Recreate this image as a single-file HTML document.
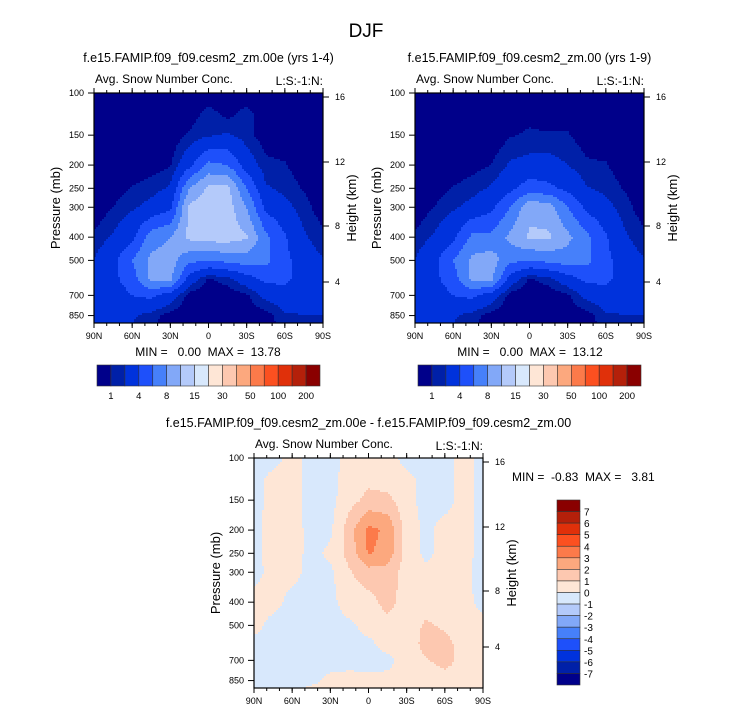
<!DOCTYPE html>
<html><head><meta charset="utf-8">
<style>
body{margin:0;background:#fff;font-family:"Liberation Sans",Arial,sans-serif}
svg text{font-family:"Liberation Sans",Arial,sans-serif;fill:#000;white-space:pre}
</style></head>
<body>
<svg id="fig" width="733" height="712" viewBox="0 0 733 712" xmlns="http://www.w3.org/2000/svg">
<rect width="733" height="712" fill="#fff"/>
<text x="366" y="37" font-size="19" text-anchor="middle">DJF</text>
<g id="g"></g>
</svg>
<script>
// ---- data ----
const lats = ["90N","75N","60N","45N","30N","15N","0","15S","30S","45S","60S","75S","90S"];
const latTicks = ["90N","60N","30N","0","30S","60S","90S"];
const pres = [100,125,150,200,250,300,400,500,600,700,850,925];
const presTicks = [100,150,200,250,300,400,500,700,850];
const hgtTicks = [16,12,8,4];
const levelsTop = [1,2,4,6,8,10,15,20,30,40,50,70,100,150,200];
const levelsTopLabels = ["1","4","8","15","30","50","100","200"];
const levelsDiff = [-7,-6,-5,-4,-3,-2,-1,0,1,2,3,4,5,6,7];
const colors = ["#00008a","#0020a8","#0032dc","#1e50fa","#4680fa","#82a8f8","#b4cafa","#d8e8fc","#fee6d6","#fdc8b0","#fca87e","#fc7a4a","#fc5020","#e0300a","#b4200a","#8a0000"];
const fieldA = [
[0,0,0,0,0,0.2,0.3,0.2,0.3,0,0,0,0],
[0,0,0,0,0,0.5,1.5,0.8,1.5,0.3,0,0,0],
[0,0,0,0,0.2,1.2,1.8,2.2,1.4,0.4,0.2,0,0],
[0,0,0.2,0.5,0.9,3.5,6.5,6,3,1.3,1.1,0.3,0],
[0,0.5,1.1,1.5,2.2,8,10.5,10.5,6,2.2,1.6,0.9,0.2],
[0.2,1,1.8,2.5,3.5,10.5,11,11,8,3.5,2.5,1.4,0.4],
[1.2,2.2,3.5,7,8,10.5,11,11,10.2,6.5,4.2,2.2,1.2],
[2.1,3.5,6,8.5,9,6.5,6,6.5,7,6.5,4.5,3,2.1],
[2.5,3.5,5,8.5,8.5,3,0.8,1.5,3,4.5,4.5,3,2.5],
[3,3,4,4.5,3,0.5,0.3,0.3,0.8,2.5,3,2.5,2.2],
[2.5,2.5,2.2,1.5,0.5,0.1,0.1,0.1,0.3,0.5,1.8,2,2],
[2.2,2.2,2,1.2,0.3,0.1,0,0,0.2,0.3,1.5,1.8,1.5]];
const fieldB = [
[0,0,0,0,0,0.1,0.2,0.1,0.2,0,0,0,0],
[0,0,0,0,0,0.3,0.7,0.5,0.7,0.2,0,0,0],
[0,0,0,0,0.2,0.9,1.2,1.1,1.1,0.4,0.2,0,0],
[0,0,0.2,0.6,1,2.2,2.5,2.6,2,1.2,1.1,0.3,0],
[0,0.5,1.1,1.5,2.2,3.5,5,4.5,3.5,2.1,1.6,0.9,0.2],
[0.2,1,1.8,2.5,3.5,6,9.5,9,6,3.5,2.5,1.4,0.4],
[1.2,2.2,3.5,6.5,6.5,8.5,10.3,10.3,8.5,6.5,4.2,2.2,1.2],
[2.1,3.5,6,8.5,9,6.5,6,6.5,7,6.5,4.5,3,2.1],
[2.5,3.5,5,8.5,8.5,3,0.8,1.5,3,4.5,4.5,3,2.5],
[3,3,4,4.5,3,0.5,0.3,0.3,0.8,2.5,3,2.5,2.2],
[2.5,2.5,2.2,1.5,0.5,0.1,0.1,0.1,0.3,0.5,1.8,2,2],
[2.2,2.2,2,1.2,0.3,0.1,0,0,0.2,0.3,1.5,1.8,1.5]];
const fieldD = [
[-.3,-.3,.3,-.3,-.3,.3,.3,.3,-.3,-.3,-.3,.3,-.3],
[-.3,.3,.3,-.3,-.3,.4,.8,.6,.3,-.3,-.3,.3,-.3],
[-.3,.3,.3,-.3,-.3,.6,1.3,1.3,.3,-.3,-.3,.3,-.3],
[-.3,.4,.4,-.3,-.2,1.6,3.3,2.8,.5,-.2,.3,.3,-.3],
[-.3,.4,.4,-.3,.2,1.4,3.1,2.6,.5,-.2,.3,.3,-.3],
[-.3,.3,.3,-.3,-.2,.9,1.6,1.6,.5,.2,.3,.2,-.3],
[.3,.3,-.3,-.3,-.3,.5,.6,1.4,.5,.3,.3,.3,-.3],
[.3,-.3,-.3,-.3,-.3,-.2,.3,.6,.3,1.2,.8,.5,.3],
[-.3,-.3,-.3,-.3,-.3,-.2,-.2,.3,.3,1.4,1.4,.5,.3],
[-.3,-.3,-.3,-.3,-.3,-.2,-.3,-.2,.3,.9,1.4,.6,.3],
[-.3,-.3,-.3,-.2,.2,.2,.2,.2,.3,.3,.5,.6,.2],
[-.3,-.3,-.3,.2,.2,.2,.2,.2,.3,.3,.4,.5,.2]];

const NS="http://www.w3.org/2000/svg";
const root=document.getElementById('g');
function mk(tag,attrs,parent,txt){const e=document.createElementNS(NS,tag);for(const k in attrs)e.setAttribute(k,attrs[k]);if(txt!==undefined)e.textContent=txt;(parent||root).appendChild(e);return e;}

function panel(px,py,field,levels,title,name){
  const W=229,H=230,K=104;
  const g=mk('g',{});
  
  
  const yS=p=>py+Math.log(p/100)*K;
  const pOf=y=>100*Math.exp((y-py)/K);
  function val(x,y){
    const fi=(x-px)/W*(lats.length-1);
    const i=Math.max(0,Math.min(lats.length-2,Math.floor(fi)));const tx=Math.min(1,Math.max(0,fi-i));
    const p=pOf(y);let j=0;while(j<pres.length-2&&pres[j+1]<p)j++;
    const ty=Math.min(1,Math.max(0,(Math.log(p)-Math.log(pres[j]))/(Math.log(pres[j+1])-Math.log(pres[j]))));
    const a=field[j][i]*(1-tx)+field[j][i+1]*tx, b=field[j+1][i]*(1-tx)+field[j+1][i+1]*tx;
    return a*(1-ty)+b*ty;
  }
  function cidx(v){let k=0;while(k<levels.length&&v>=levels[k])k++;return k;}
  const st=2;
  const cells=mk('g',{},g);
  
  
  for(let y=py;y<py+H;y+=st){
    const h=Math.min(st,py+H-y)+0.4;
    let x0=px,c0=cidx(val(px+st/2,y+st/2));
    for(let x=px+st;x<px+W;x+=st){
      const c=cidx(val(x+st/2,y+st/2));
      if(c!==c0){mk('rect',{x:x0,y:y,width:x-x0+0.4,height:h,fill:colors[c0]},cells);x0=x;c0=c;}
    }
    mk('rect',{x:x0,y:y,width:px+W-x0,height:h,fill:colors[c0]},cells);
  }
  mk('rect',{x:px,y:py,width:W,height:H,fill:'none',stroke:'#000','stroke-width':1.2},g);
  latTicks.forEach((t,k)=>{const x=px+k*W/6;
    mk('line',{x1:x,y1:py+H,x2:x,y2:py+H+5,stroke:'#000'},g);
    mk('line',{x1:x,y1:py,x2:x,y2:py-5,stroke:'#000'},g);
    const tl=mk('text',{x:x,y:py+H+16,'font-size':9,'text-anchor':'middle'},g,t);
    
  });
  for(let k=0;k<18;k++){const x=px+k*W/18;mk('line',{x1:x,y1:py+H,x2:x,y2:py+H+3,stroke:'#000'},g);mk('line',{x1:x,y1:py,x2:x,y2:py-3,stroke:'#000'},g);}
  presTicks.forEach(p=>{const y=yS(p);
    mk('line',{x1:px-6,y1:y,x2:px,y2:y,stroke:'#000'},g);
    const tl=mk('text',{x:px-10,y:y+3,'font-size':9,'text-anchor':'end'},g,p);
    
  });
  const hy={16:py+4,12:py+69,8:py+133,4:py+189};
  hgtTicks.forEach(h=>{const y=hy[h];mk('line',{x1:px+W,y1:y,x2:px+W+6,y2:y,stroke:'#000'},g);mk('text',{x:px+W+12,y:y+3,'font-size':9},g,h);});
  const yt=mk('text',{x:0,y:0,'font-size':13,'text-anchor':'middle',transform:`translate(${px-34},${py+H/2}) rotate(-90)`},g,'Pressure (mb)');
  
  const ht=mk('text',{x:0,y:0,'font-size':13,'text-anchor':'middle',transform:`translate(${px+W+33},${py+H/2}) rotate(-90)`},g,'Height (km)');
  
  const a=mk('text',{x:px+1,y:py-10,'font-size':12},g,'Avg. Snow Number Conc.');
  
  const b=mk('text',{x:px+W,y:py-8,'font-size':12,'text-anchor':'end'},g,'L:S:-1:N:');
  
  const t=mk('text',{x:px+W/2,y:py-31,'font-size':12.5,'text-anchor':'middle'},g,title);
  
}
function hbar(x,y,name){
  const g=mk('g',{});
  const w=223/16;
  colors.forEach((c,k)=>mk('rect',{x:x+k*w,y:y,width:w,height:21,fill:c,stroke:'#333','stroke-width':0.6},g));
  levelsTopLabels.forEach((l,k)=>{const tl=mk('text',{x:x+w*(1+2*k),y:y+34,'font-size':9.5,'text-anchor':'middle'},g,l);
    });
}
panel(94,93,fieldA,levelsTop,'f.e15.FAMIP.f09_f09.cesm2_zm.00e (yrs 1-4)','panel-left');
panel(415,93,fieldB,levelsTop,'f.e15.FAMIP.f09_f09.cesm2_zm.00 (yrs 1-9)','panel-right');
panel(254,458,fieldD,levelsDiff,'f.e15.FAMIP.f09_f09.cesm2_zm.00e - f.e15.FAMIP.f09_f09.cesm2_zm.00','panel-diff');
mk('text',{x:208,y:356,'font-size':12,'text-anchor':'middle'},root,'MIN =   0.00  MAX =  13.78');
mk('text',{x:530,y:356,'font-size':12,'text-anchor':'middle'},root,'MIN =   0.00  MAX =  13.12');
mk('text',{x:512,y:481,'font-size':12},root,'MIN =  -0.83  MAX =   3.81');
hbar(97,365,'colorbar-left');
hbar(418,365,'colorbar-right');
const vb=mk('g',{});
const vh=185/16;
colors.slice().reverse().forEach((c,k)=>mk('rect',{x:557,y:500+k*vh,width:23,height:vh,fill:c,stroke:'#333','stroke-width':0.6},vb));
levelsDiff.slice().reverse().forEach((l,k)=>{const tl=mk('text',{x:584,y:500+(k+1)*vh+4,'font-size':10},vb,l);
  });
</script>
</body></html>
